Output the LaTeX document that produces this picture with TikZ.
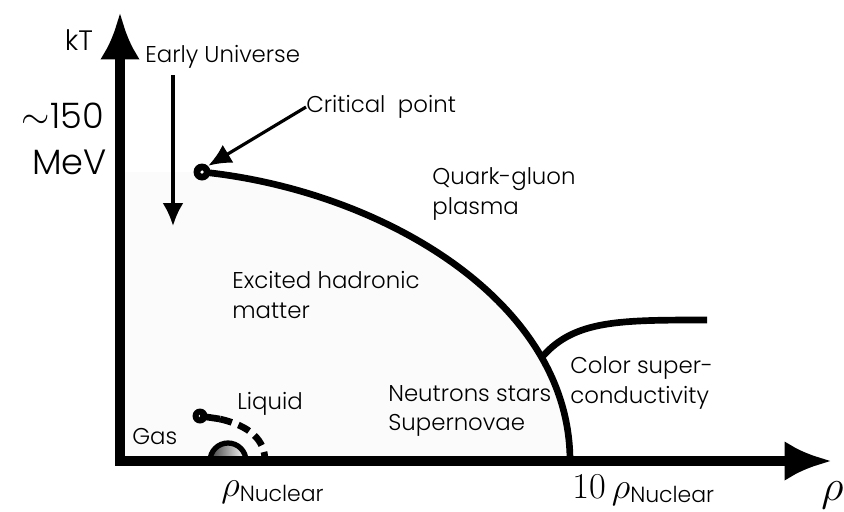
\documentclass[tikz,border=0pt]{standalone}
\usepackage{fontspec}
\setmainfont{Poppins}[UprightFont={* Light}]
\usetikzlibrary{arrows.meta}
\tikzset{
  axisline/.style={line width=5.4pt, {Latex[length=0.95cm, width=0.8cm]}-{Latex[length=0.95cm, width=0.8cm]}},
  phaseline/.style={line width=3.8pt},
  thinarrow/.style={line width=1.8pt, -{Latex[length=0.46cm, width=0.42cm]}},
  region/.style={font=\fontsize{13}{17}\selectfont, align=left, anchor=west, inner sep=0pt},
  biglabel/.style={font=\fontsize{20}{24}\selectfont, inner sep=0pt},
  pointdot/.style={circle, fill=black, minimum size=0.34cm, inner sep=0pt}
}

\begin{document}
\begin{tikzpicture}[x=0.02cm, y=-0.02cm]
  \useasboundingbox (0,0) rectangle (844,511);
  % axes
  \coordinate (origin) at (120,461);
  \coordinate (ytip) at (120,12);
  \coordinate (xtip) at (832,461);
  \coordinate (tenrho) at (570,461);
  \coordinate (critpt) at (202,172);
  \coordinate (branch) at (543,356);
  \coordinate (cscend) at (707,320);
  \fill[black!1.5] (origin) -- (120,172) -- (critpt) .. controls (380,190) and (570,300) .. (tenrho) -- cycle;
  \draw[axisline] (ytip) -- (origin) -- (xtip);
  % phase boundaries
  \draw[phaseline] (critpt) .. controls (380,190) and (570,300) .. (tenrho);
  \draw[phaseline] (branch) .. controls (575,320) and (620,320) .. (cscend);
  \node[pointdot] (crit) at (critpt) {};
  \fill[white] (crit.center) circle (1pt);
  % liquid-gas
  \coordinate (lgbend) at (220,419);
  \coordinate (lgend) at (265,461);
  \node[pointdot, minimum size=0.3cm] (lgpoint) at (200,416) {};
  \fill[white] (lgpoint.center) circle (0.8pt);
  \draw[phaseline] (lgpoint.center) -- (lgbend);
  \draw[phaseline, dash pattern=on 7pt off 4pt] (lgbend) .. controls (250,426) and (265,440) .. (lgend);
  \shade[left color=black!75, right color=white, draw=black, line width=3pt] (210,461) arc (180:360:18) -- cycle;
  \draw[line width=5.4pt] (200,461) -- (260,461);
  % labels
  \node[font=\fontsize{16}{19}\selectfont] (kt) at (79,40) {kT};
  \node[biglabel, anchor=east] (mev150) at (104,116) {$\sim$150};
  \node[biglabel, anchor=east] (mev) at (107,162) {MeV};
  \node[region] (early) at (145,57) {Early Universe};
  \node[region] (critlbl) at (306,107) {Critical\ \ point};
  \node[region] (qgp) at (432,194) {Quark-gluon\\plasma};
  \node[region] (hadron) at (232,295) {Excited hadronic\\matter};
  \node[region] (nstars) at (388,411) {Neutrons stars\\Supernovae};
  \node[region] (csc) at (570,383) {Color super-\\conductivity};
  \node[region] (gas) at (132,437) {Gas};
  \node[region] (liquid) at (237,404) {Liquid};
  \node[font=\fontsize{20}{24}\selectfont, inner sep=0pt, anchor=base west] (rhonuc) at (221,496) {$\rho$\raisebox{-3pt}{\fontsize{12.5}{15}\selectfont Nuclear}};
  \node[font=\fontsize{22}{26}\selectfont, inner sep=0pt, anchor=base west] (rhoten) at (572,498) {$10\,\rho$\raisebox{-2.5pt}{\fontsize{12.5}{15}\selectfont Nuclear}};
  \node[font=\fontsize{26}{30}\selectfont, inner sep=0pt, anchor=base west] (rho) at (821,500) {$\rho$};
  % arrows
  \coordinate (earlytop) at (173,75);
  \coordinate (earlybot) at (173,226);
  \draw[thinarrow] (earlytop) -- (earlybot);
  \draw[thinarrow] (critlbl.west) -- (crit.north east);
\end{tikzpicture}
\end{document}
